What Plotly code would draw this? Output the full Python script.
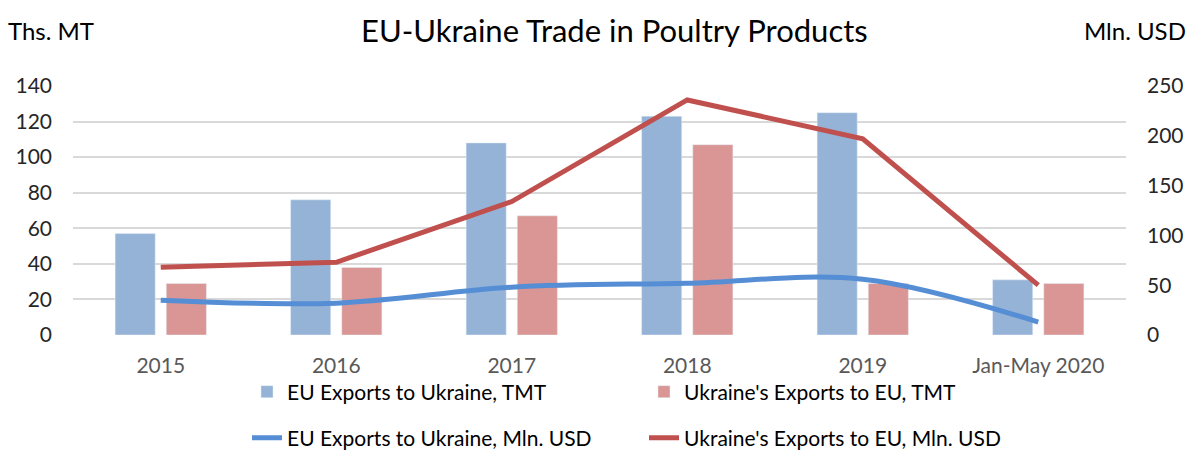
import plotly.graph_objects as go

categories = ["2015", "2016", "2017", "2018", "2019", "Jan-May 2020"]
eu_exports_tmt = [57, 76, 108, 123, 125, 31]
ua_exports_tmt = [29, 38, 67, 107, 29, 29]
eu_exports_usd = [35, 32, 48, 52, 56, 13]
ua_exports_usd = [68, 73, 134, 236, 197, 50]

left_ticks = [0, 20, 40, 60, 80, 100, 120, 140]
right_ticks = [0, 50, 100, 150, 200, 250]

FONT = "Lato, 'Open Sans', sans-serif"
# page body has an 8px margin, so the figure is sized/positioned to compensate
W, H = 1186, 447
L, R, T, B = 65, 68, 78, 120
PW, PH = W - L - R, H - T - B

fig = go.Figure()
fig.add_trace(go.Bar(x=categories, y=eu_exports_tmt, name="EU Exports to Ukraine, TMT",
                     marker=dict(color="#95b3d7"), legend="legend"))
fig.add_trace(go.Bar(x=categories, y=ua_exports_tmt, name="Ukraine's Exports to EU, TMT",
                     marker=dict(color="#d99694"), legend="legend"))
fig.add_trace(go.Scatter(x=categories, y=eu_exports_usd, name="EU Exports to Ukraine, Mln. USD",
                         mode="lines", line=dict(color="#558ed5", width=5, shape="spline"),
                         yaxis="y2", legend="legend2"))
fig.add_trace(go.Scatter(x=categories, y=ua_exports_usd, name="Ukraine's Exports to EU, Mln. USD",
                         mode="lines", line=dict(color="#c0504d", width=5),
                         yaxis="y2", legend="legend2"))

fig.update_layout(
    width=W, height=H,
    margin=dict(l=L, r=R, t=T, b=B, autoexpand=False),
    paper_bgcolor="white", plot_bgcolor="white",
    font=dict(family=FONT, size=21, color="#262626"),
    barmode="group", bargap=0.417, bargroupgap=0.216,
    xaxis=dict(type="category", showgrid=False, showline=False, ticks="",
               tickfont=dict(color="#595959", size=21), ticklabelstandoff=16),
    yaxis=dict(range=[0, 140], tickvals=left_ticks, showgrid=True, gridcolor="#d9d9d9",
               gridwidth=2, zeroline=False, showline=False, ticklabelstandoff=20,
               tickfont=dict(color="#262626", size=21)),
    yaxis2=dict(range=[0, 250], tickvals=right_ticks, overlaying="y", side="right",
                showgrid=False, zeroline=False, showline=False, ticklabelstandoff=20,
                tickfont=dict(color="#262626", size=21)),
    legend=dict(orientation="h", xref="container", yref="container",
                x=239 / W, y=1 - 384 / H, xanchor="left", yanchor="middle",
                entrywidth=352, entrywidthmode="pixels", font=dict(size=21, color="#000000"),
                bgcolor="rgba(0,0,0,0)"),
    legend2=dict(orientation="h", xref="container", yref="container",
                 x=239 / W, y=1 - 430 / H, xanchor="left", yanchor="middle",
                 entrywidth=352, entrywidthmode="pixels", font=dict(size=21, color="#000000"),
                 bgcolor="rgba(0,0,0,0)"),
    annotations=[
        dict(text="EU-Ukraine Trade in Poultry Products", xref="x domain", yref="y domain",
             x=(606 - L) / PW, y=1 + (T - 1) / PH, xanchor="center", yanchor="top",
             showarrow=False, font=dict(size=31, color="#000000")),
        dict(text="Ths. MT", xref="x domain", yref="y domain", x=(-2 - L) / PW,
             y=1 + (T - 22) / PH, xanchor="left", yanchor="middle", showarrow=False,
             font=dict(size=24, color="#000000")),
        dict(text="Mln. USD", xref="x domain", yref="y domain", x=(1180 - L) / PW,
             y=1 + (T - 22) / PH, xanchor="right", yanchor="middle", showarrow=False,
             font=dict(size=24, color="#000000")),
    ],
)

fig.write_html("out.html")
